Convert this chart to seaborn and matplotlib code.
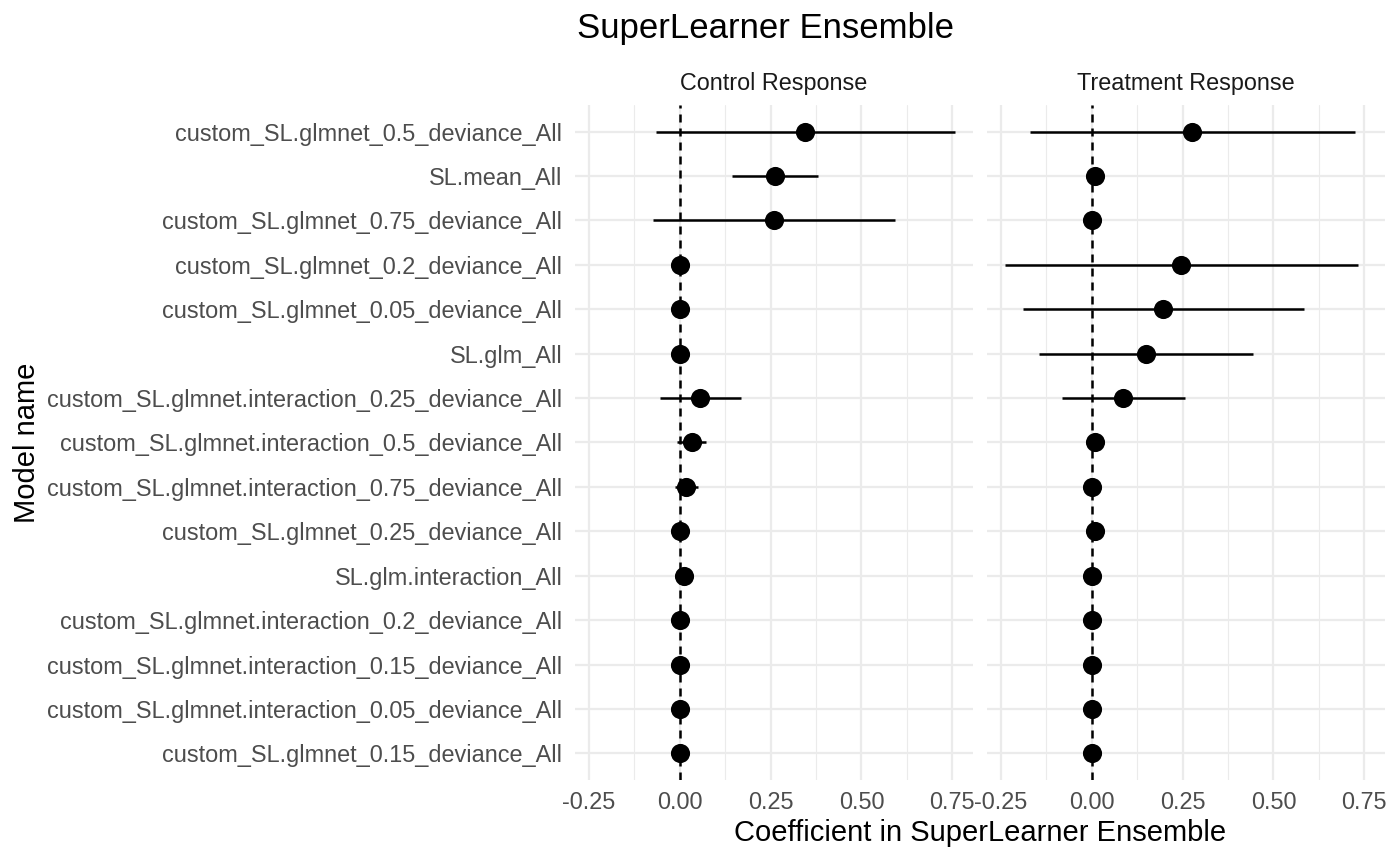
import numpy as np
import pandas as pd
import matplotlib
matplotlib.use('Agg')
import matplotlib.pyplot as plt
import seaborn as sns

#Model names, top to bottom
models = ['custom_SL.glmnet_0.5_deviance_All', 'SL.mean_All', 'custom_SL.glmnet_0.75_deviance_All',
          'custom_SL.glmnet_0.2_deviance_All', 'custom_SL.glmnet_0.05_deviance_All', 'SL.glm_All',
          'custom_SL.glmnet.interaction_0.25_deviance_All', 'custom_SL.glmnet.interaction_0.5_deviance_All',
          'custom_SL.glmnet.interaction_0.75_deviance_All', 'custom_SL.glmnet_0.25_deviance_All',
          'SL.glm.interaction_All', 'custom_SL.glmnet.interaction_0.2_deviance_All',
          'custom_SL.glmnet.interaction_0.15_deviance_All', 'custom_SL.glmnet.interaction_0.05_deviance_All',
          'custom_SL.glmnet_0.15_deviance_All']

#Control response coefficients and intervals
ctrl_coef = [0.344, 0.262, 0.259, 0.0, 0.0, 0.0, 0.055, 0.033, 0.017, 0.0, 0.012, 0.0, 0.0, 0.0, 0.0]
ctrl_low = [-0.066, 0.143, -0.074, 0.0, 0.0, 0.0, -0.055, -0.008, -0.014, 0.0, 0.0, 0.0, 0.0, 0.0, 0.0]
ctrl_high = [0.757, 0.380, 0.592, 0.0, 0.0, 0.0, 0.168, 0.072, 0.050, 0.0, 0.02, 0.0, 0.0, 0.0, 0.0]

#Treatment response coefficients and intervals
trt_coef = [0.276, 0.008, 0.0, 0.246, 0.196, 0.149, 0.086, 0.008, 0.0, 0.010, 0.0, 0.0, 0.0, 0.0, 0.0]
trt_low = [-0.171, 0.004, 0.0, -0.238, -0.190, -0.144, -0.083, 0.004, 0.0, 0.005, 0.0, 0.0, 0.0, 0.0, 0.0]
trt_high = [0.724, 0.012, 0.0, 0.732, 0.583, 0.445, 0.257, 0.012, 0.0, 0.015, 0.0, 0.0, 0.0, 0.0, 0.0]

panels = ['Control Response', 'Treatment Response']

df = pd.concat([
    pd.DataFrame({'model': models, 'coef': ctrl_coef, 'low': ctrl_low, 'high': ctrl_high, 'panel': panels[0]}),
    pd.DataFrame({'model': models, 'coef': trt_coef, 'low': trt_low, 'high': trt_high, 'panel': panels[1]}),
])

sns.set_style('white')
plt.rcParams['font.family'] = ['Liberation Sans', 'DejaVu Sans']

fig = plt.figure(figsize=(14, 8.65), dpi=100)
axes = [fig.add_axes([0.4107, 0.0983, 0.2843, 0.7803]),
        fig.add_axes([0.7050, 0.0983, 0.2843, 0.7803])]

grid_col = '#EBEBEB'
for ax, name in zip(axes, panels):
    d = df[df['panel'] == name].reset_index(drop=True)
    ypos = np.arange(len(d))
    #grid lines like theme_minimal
    for t in np.arange(-0.25, 0.80, 0.25):
        ax.axvline(t, color=grid_col, lw=1.6, zorder=0)
    for t in np.arange(-0.125, 0.80, 0.25):
        ax.axvline(t, color=grid_col, lw=0.8, zorder=0)
    for y in ypos:
        ax.axhline(y, color=grid_col, lw=1.6, zorder=0)
    ax.hlines(ypos, d['low'], d['high'], color='black', lw=1.8, zorder=2)
    ax.axvline(0, color='black', lw=1.8, ls=(0, (3.2, 2.4)), zorder=3)
    sns.scatterplot(data=d, x='coef', y=ypos, ax=ax, color='black', s=190,
                    edgecolor='black', linewidth=0, zorder=4, legend=False)
    ax.set_xlim(-0.288, 0.807)
    ax.set_ylim(len(d) - 0.4, -0.6)
    ax.set_xticks([-0.25, 0, 0.25, 0.5, 0.75])
    ax.set_xticklabels(['-0.25', '0.00', '0.25', '0.50', '0.75'])
    ax.set_yticks(ypos)
    ax.tick_params(axis='both', length=0, labelsize=16.9, colors='#4D4D4D')
    ax.tick_params(axis='y', pad=9)
    ax.tick_params(axis='x', pad=8)
    ax.set_xlabel('')
    ax.set_ylabel('')
    for s in ax.spines.values():
        s.set_visible(False)
    ax.text(0.5, 1 + 22 / 675, name, transform=ax.transAxes, ha='center', va='center',
            fontsize=16.8, color='#1A1A1A')

axes[0].set_yticklabels(models)
axes[1].set_yticklabels([])

fig.text(0.0193, 0.488, 'Model name', rotation=90, ha='center', va='center', fontsize=21, color='black')
fig.text(0.70, 0.037, 'Coefficient in SuperLearner Ensemble', ha='center', va='center', fontsize=21, color='black')
fig.text(0.547, 0.9676, 'SuperLearner Ensemble', ha='center', va='center', fontsize=25, color='black')

plt.savefig('out.png', dpi=100)
